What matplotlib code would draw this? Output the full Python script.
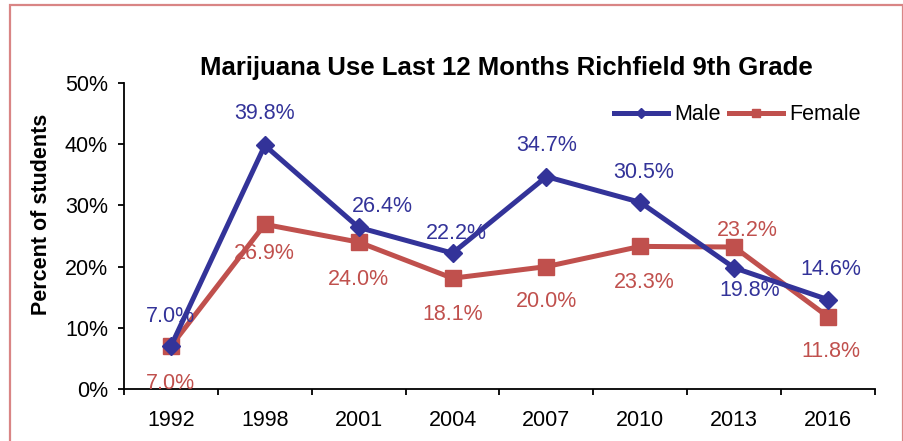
import matplotlib
matplotlib.use("Agg")
import matplotlib.pyplot as plt
from matplotlib.patches import Rectangle
from matplotlib.ticker import FixedLocator, PercentFormatter

plt.rcParams['font.family'] = ['Liberation Sans', 'DejaVu Sans']

years = ['1992', '1998', '2001', '2004', '2007', '2010', '2013', '2016']
male = [7.0, 39.8, 26.4, 22.2, 34.7, 30.5, 19.8, 14.6]
female = [7.0, 26.9, 24.0, 18.1, 20.0, 23.3, 23.2, 11.8]

# label offsets from each point, in pixels (dx, dy; +dy is up)
male_offsets = [(0, 30), (0, 32), (24, 21), (4, 20), (0, 31), (3, 30), (16, -23), (3, 30)]
female_offsets = [(0, -37), (0, -29), (0, -37), (0, -36), (0, -35), (4, -36), (13, 17), (3, -35)]

male_color = '#333399'
female_color = '#C0504D'

fig = plt.figure(figsize=(9.04, 4.41), dpi=100)
ax = fig.add_axes([124/904, 1-389/441, (875-124)/904, (389-83)/441])

x = list(range(len(years)))
ax.plot(x, male, color=male_color, lw=3.6, marker='D', ms=9.5, label='Male', zorder=3)
ax.plot(x, female, color=female_color, lw=3.6, marker='s', ms=11, label='Female', zorder=2)

px = 0.72
for i, v in enumerate(male):
    dx, dy = male_offsets[i]
    ax.annotate(f'{v:.1f}%', (i, v), xytext=(dx*px, dy*px), textcoords='offset points',
                ha='center', va='center', color=male_color, fontsize=15.5, zorder=5)
for i, v in enumerate(female):
    dx, dy = female_offsets[i]
    ax.annotate(f'{v:.1f}%', (i, v), xytext=(dx*px, dy*px), textcoords='offset points',
                ha='center', va='center', color=female_color, fontsize=15.5, zorder=5)

ax.set_xlim(-0.5, len(years)-0.5)
ax.set_ylim(0, 50)
ax.set_yticks([0, 10, 20, 30, 40, 50])
ax.yaxis.set_major_formatter(PercentFormatter(decimals=0))
ax.set_xticks(x)
ax.set_xticklabels(years)
ax.xaxis.set_minor_locator(FixedLocator([i - 0.5 for i in range(len(years)+1)]))
ax.tick_params(axis='x', which='major', length=0, pad=15, labelsize=15.5)
ax.tick_params(axis='x', which='minor', length=4.5, width=1.3, direction='out')
ax.tick_params(axis='y', length=4.5, width=1.3, pad=7, labelsize=15.5)
for s in ['top', 'right']:
    ax.spines[s].set_visible(False)
for s in ['left', 'bottom']:
    ax.spines[s].set_linewidth(1.3)
ax.patch.set_alpha(0)

fig.text(506/904, 1-68/441, 'Marijuana Use Last 12 Months Richfield 9th Grade',
         ha='center', va='center', fontsize=18.5, fontweight='bold')
fig.text(42/904, 1-214/441, 'Percent of students', rotation=90,
         ha='center', va='center', fontsize=15.5, fontweight='bold')

ax.legend(loc='center right', bbox_to_anchor=(872/904, 1-115/441), bbox_transform=fig.transFigure,
          ncol=2, frameon=False, fontsize=15.5, handlelength=2.5, columnspacing=0.4,
          handletextpad=0.3, borderpad=0, markerscale=0.5)

fig.patches.append(Rectangle((10/904, -0.1), 893/904, 1.1-5/441, transform=fig.transFigure,
                             fill=False, edgecolor='#D98585', lw=1.6))

fig.savefig('out.png', dpi=100)
